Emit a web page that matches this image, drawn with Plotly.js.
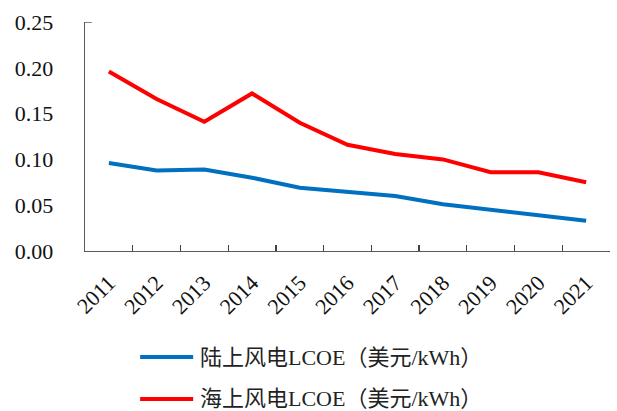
<!DOCTYPE html>
<html>
<head>
<meta charset="utf-8">
<script src="https://cdn.plot.ly/plotly-3.0.1.min.js"></script>
<style>html,body{margin:0;padding:0;background:#fff;}#chart{width:617px;height:411px;}</style>
</head>
<body>
<div id="chart"></div>
<script>
const years = ['2011','2012','2013','2014','2015','2016','2017','2018','2019','2020','2021'];
const onshore = [0.096,0.088,0.089,0.080,0.069,0.064,0.060,0.051,0.045,0.039,0.033];
const offshore = [0.196,0.166,0.141,0.172,0.140,0.116,0.106,0.100,0.086,0.086,0.075];
const seriesNames = ['陆上风电LCOE（美元/kWh）','海上风电LCOE（美元/kWh）'];
const seriesColors = ['#0070C0','#FF0000'];
const yTicks = [0,0.05,0.10,0.15,0.20,0.25];
const yTickText = ['0.00','0.05','0.10','0.15','0.20','0.25'];

const FONT = '"Liberation Serif", "Times New Roman", "Noto Sans CJK SC", serif';

const traces = [
  {x: years, y: onshore, name: seriesNames[0], type: 'scatter', mode: 'lines',
   line: {color: seriesColors[0], width: 4}},
  {x: years, y: offshore, name: seriesNames[1], type: 'scatter', mode: 'lines',
   line: {color: seriesColors[1], width: 4}}
];

const legendY = [-0.463, -0.646];
const shapes = [
  {type:'line', xref:'paper', yref:'y', x0:0, x1:0.013, y0:0.25, y1:0.25, line:{color:'#404040', width:1.3}}
];
const annotations = [];
seriesNames.forEach((n,i)=>{
  shapes.push({type:'line', xref:'paper', yref:'paper', x0:0.105, x1:0.206, y0:legendY[i], y1:legendY[i],
    line:{color:seriesColors[i], width:4}});
  annotations.push({xref:'paper', yref:'paper', x:0.215, y:legendY[i], xanchor:'left', yanchor:'middle',
    text:n, showarrow:false, font:{family:FONT, size:22, color:'#222'}});
});

const layout = {
  width: 617, height: 411,
  margin: {l:85, r:7, t:22, b:160},
  paper_bgcolor:'#fff', plot_bgcolor:'#fff',
  showlegend: false,
  font: {family: FONT, color:'#1a1a1a'},
  xaxis: {
    type:'category', range:[-0.5, 10.5], showgrid:false, zeroline:false,
    showline:true, linecolor:'#5a5a5a', linewidth:1.3,
    ticks:'inside', ticklen:6, tickcolor:'#404040', tickwidth:1.3, tickson:'boundaries',
    tickangle:-45, tickfont:{family:FONT, size:22, color:'#111'},
    ticklabelstandoff: 9
  },
  yaxis: {
    range:[0,0.25], tickvals:yTicks, ticktext:yTickText, showgrid:false, zeroline:false,
    showline:true, linecolor:'#5a5a5a', linewidth:1.3, ticks:'',
    tickfont:{family:FONT, size:22, color:'#111'}, ticklabelstandoff: 26
  },
  shapes: shapes,
  annotations: annotations
};

Plotly.newPlot('chart', traces, layout, {displayModeBar:false, staticPlot:true});
</script>
</body>
</html>
